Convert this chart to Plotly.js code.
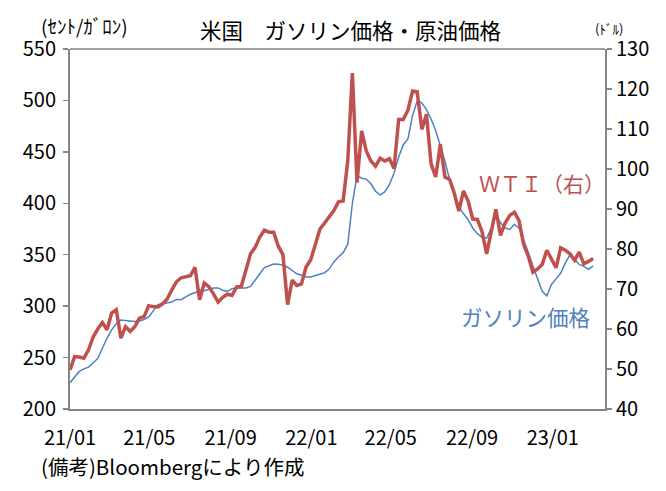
<!DOCTYPE html>
<html>
<head>
<meta charset="utf-8">
<script src="https://cdn.plot.ly/plotly-3.0.1.min.js"></script>
<style>html,body{margin:0;padding:0;background:#fff;}#chart{width:666px;height:491px;}</style>
</head>
<body>
<div id="chart"></div>
<script>
// Weekly observations starting 2021-01-01
const startDate = '2021-01-01';
const nWeeks = 114;

// WTI crude oil price (dollars per barrel, right axis)
const wti = [
  49.8, 53.1, 53.0, 52.7, 54.8, 58.0, 60.0, 61.6, 59.8, 64.0,
  64.8, 57.7, 60.6, 59.4, 60.6, 62.7, 63.1, 65.8, 65.6, 65.5,
  66.3, 67.5, 69.8, 71.8, 72.8, 73.1, 73.3, 75.4, 67.3, 71.5,
  70.6, 68.8, 66.7, 67.9, 68.7, 68.4, 70.5, 70.6, 74.5, 78.8,
  80.4, 83.0, 84.7, 84.2, 84.2, 80.7, 78.6, 66.1, 72.2, 70.9,
  71.3, 75.5, 77.3, 81.1, 85.0, 86.5, 88.0, 89.6, 91.8, 92.0,
  102.0, 124.0, 96.6, 109.5, 104.5, 102.0, 100.7, 102.7, 102.0, 102.6,
  100.1, 112.4, 112.4, 114.7, 119.5, 119.3, 109.9, 113.7, 101.3, 98.0,
  106.2, 98.0, 97.4, 94.0, 89.5, 94.5, 92.0, 87.5, 87.4, 84.4,
  78.8, 84.4, 89.9, 83.4, 86.5, 88.4, 89.2, 87.1, 81.1, 78.2,
  74.2, 75.0, 76.1, 79.7, 77.3, 75.3, 80.3, 79.7, 78.8, 77.2,
  79.2, 76.3, 76.9, 77.6
];

// US retail gasoline price (cents per gallon, left axis)
const gasoline = [
  225.6, 231.5, 236.5, 239.0, 240.7, 245.0, 249.0, 259.0, 269.0, 277.0,
  283.0, 286.5, 285.8, 285.1, 285.1, 285.5, 287.0, 289.5, 295.0, 301.5,
  302.4, 303.0, 304.0, 306.5, 306.3, 309.0, 311.5, 313.0, 315.5, 315.0,
  316.0, 317.7, 317.7, 315.5, 314.4, 317.0, 317.7, 317.7, 317.7, 319.2,
  326.0, 331.5, 337.5, 339.2, 341.0, 340.8, 340.0, 337.8, 334.5, 331.5,
  330.0, 328.4, 328.4, 329.7, 330.5, 332.5, 336.0, 343.0, 347.7, 352.0,
  360.0, 400.0, 427.0, 424.4, 423.5, 419.0, 411.7, 408.0, 411.0, 418.0,
  429.5, 445.0, 457.0, 462.5, 485.5, 499.5, 497.7, 491.0, 482.0, 470.5,
  456.0, 441.0, 423.0, 409.5, 396.5, 390.0, 384.0, 376.0, 370.5, 367.0,
  366.0, 376.0, 388.0, 381.0, 376.0, 374.5, 379.4, 376.0, 364.8, 352.5,
  339.0, 326.0, 314.5, 310.0, 321.0, 326.5, 332.0, 342.0, 349.8, 345.5,
  340.5, 338.7, 335.7, 339.2
];

const xTickVals = ['2021-01-01','2021-05-01','2021-09-01','2022-01-01','2022-05-01','2022-09-01','2023-01-01'];
const xTickText = ['21/01','21/05','21/09','22/01','22/05','22/09','23/01'];

// weekly date labels
const dates = [];
{
  const d0 = new Date(startDate + 'T00:00:00Z');
  for (let i = 0; i < nWeeks; i++) {
    const d = new Date(d0.getTime() + i * 7 * 86400000);
    dates.push(d.toISOString().slice(0, 10));
  }
}

const CJK = '"Noto Sans CJK JP", sans-serif';
const axisGray = '#868686';

const traces = [
  {
    x: dates, y: gasoline, type: 'scatter', mode: 'lines', yaxis: 'y',
    line: {color: '#4f81bd', width: 1.5}, hoverinfo: 'skip'
  },
  {
    x: dates, y: wti, type: 'scatter', mode: 'lines', yaxis: 'y2',
    line: {color: '#c0504d', width: 3.5}, hoverinfo: 'skip'
  }
];

const layout = {
  width: 666, height: 491,
  margin: {l: 70, r: 61, t: 49, b: 82, pad: 0},
  paper_bgcolor: '#fff', plot_bgcolor: '#fff',
  showlegend: false,
  font: {family: CJK, size: 20, color: '#000'},
  xaxis: {
    type: 'date', range: ['2021-01-01', '2023-03-21'],
    tickmode: 'array', tickvals: xTickVals, ticktext: xTickText,
    ticks: '', showgrid: false, zeroline: false,
    showline: true, linecolor: axisGray, linewidth: 2,
    tickfont: {family: CJK, size: 20, color: '#000'},
    ticklabelstandoff: 10
  },
  yaxis: {
    range: [200, 550], dtick: 50, tick0: 200,
    ticks: 'outside', ticklen: 5, tickwidth: 1.5, tickcolor: axisGray,
    showgrid: false, zeroline: false,
    showline: true, linecolor: axisGray, linewidth: 2,
    tickfont: {family: CJK, size: 20, color: '#000'},
    ticklabelstandoff: 3
  },
  yaxis2: {
    overlaying: 'y', side: 'right',
    range: [40, 130], dtick: 10, tick0: 40,
    ticks: 'outside', ticklen: 5, tickwidth: 1.5, tickcolor: axisGray,
    showgrid: false, zeroline: false,
    showline: true, linecolor: axisGray, linewidth: 2,
    tickfont: {family: CJK, size: 20, color: '#000'}
  },
  shapes: [
    {type: 'line', xref: 'paper', yref: 'paper', x0: 0, x1: 1, y0: 1, y1: 1,
     line: {color: '#404040', width: 1}}
  ],
  annotations: [
    {text: '米国　ガソリン価格・原油価格', xref: 'paper', yref: 'paper',
     x: 0.525, y: 1.055, xanchor: 'center', yanchor: 'middle', showarrow: false,
     font: {family: CJK, size: 21.5, color: '#000'}},
    {text: '(ｾﾝﾄ/ｶﾞﾛﾝ)', xref: 'paper', yref: 'paper',
     x: -0.058, y: 1.066, xanchor: 'left', yanchor: 'middle', showarrow: false,
     font: {family: CJK, size: 19, color: '#000'}},
    {text: '(ﾄﾞﾙ)', xref: 'paper', yref: 'paper',
     x: 0.977, y: 1.058, xanchor: 'left', yanchor: 'middle', showarrow: false,
     font: {family: CJK, size: 13, color: '#000'}},
    {text: 'ＷＴＩ（右）', xref: 'paper', yref: 'paper',
     x: 0.883, y: 0.628, xanchor: 'center', yanchor: 'middle', showarrow: false,
     font: {family: CJK, size: 21, color: '#c0504d'}},
    {text: 'ガソリン価格', xref: 'paper', yref: 'paper',
     x: 0.852, y: 0.258, xanchor: 'center', yanchor: 'middle', showarrow: false,
     font: {family: CJK, size: 21.5, color: '#4f81bd'}},
    {text: '(備考)Bloombergにより作成', xref: 'paper', yref: 'paper',
     x: -0.058, y: -0.158, xanchor: 'left', yanchor: 'middle', showarrow: false,
     font: {family: CJK, size: 20.5, color: '#000'}}
  ]
};

Plotly.newPlot('chart', traces, layout, {staticPlot: true, displayModeBar: false});
</script>
</body>
</html>
